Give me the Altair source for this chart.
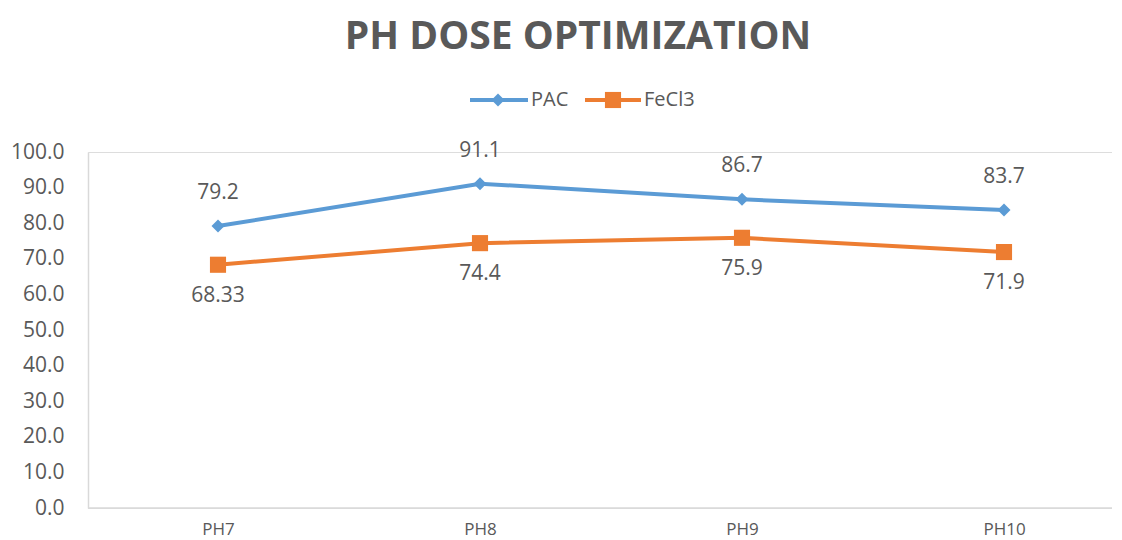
import altair as alt
import pandas as pd

categories = ["PH7", "PH8", "PH9", "PH10"]
pac = [79.2, 91.1, 86.7, 83.7]
fecl3 = [68.33, 74.4, 75.9, 71.9]
pac_labels = ["79.2", "91.1", "86.7", "83.7"]
fecl3_labels = ["68.33", "74.4", "75.9", "71.9"]
series = ["PAC", "FeCl3"]
colors = ["#5B9BD5", "#ED7D31"]
y_ticks = [0, 10, 20, 30, 40, 50, 60, 70, 80, 90, 100]
title_text = "PH DOSE OPTIMIZATION"

rows = []
for c, v, l in zip(categories, pac, pac_labels):
    rows.append({"cat": c, "val": v, "label": l, "series": "PAC"})
for c, v, l in zip(categories, fecl3, fecl3_labels):
    rows.append({"cat": c, "val": v, "label": l, "series": "FeCl3"})
df = pd.DataFrame(rows)

FONT = "Open Sans"
GREY = "#595959"
W, H = 1024, 356

x = alt.X("cat:N", sort=categories, title=None,
          scale=alt.Scale(type="point", range=[130, 916], padding=0),
          axis=alt.Axis(labelAngle=0, ticks=False, domain=False,
                        labelFont=FONT, labelFontSize=17, labelColor=GREY, labelPadding=13))
y = alt.Y("val:Q", title=None,
          scale=alt.Scale(domain=[0, 100], nice=False),
          axis=alt.Axis(values=y_ticks, format=".1f", ticks=False, grid=False,
                        domainColor="#D9D9D9", domainWidth=1.5,
                        labelFont=FONT, labelFontSize=21, labelColor=GREY, labelPadding=24))
color = alt.Color("series:N", scale=alt.Scale(domain=series, range=colors), legend=None)

base = alt.Chart(df).encode(x=x, y=y, color=color)

lines = base.mark_line(strokeWidth=4)
pac_pts = base.transform_filter(alt.datum.series == "PAC").mark_point(
    shape="diamond", filled=True, size=170, opacity=1)
fe_pts = base.transform_filter(alt.datum.series == "FeCl3").mark_point(
    shape="square", filled=True, size=260, opacity=1)
pac_txt = alt.Chart(df).transform_filter(alt.datum.series == "PAC").mark_text(
    dy=-33, baseline="middle", font=FONT, fontSize=21, color=GREY).encode(x=x, y=y, text="label:N")
fe_txt = alt.Chart(df).transform_filter(alt.datum.series == "FeCl3").mark_text(
    dy=31, baseline="middle", font=FONT, fontSize=21, color=GREY).encode(x=x, y=y, text="label:N")

# axis line, legend and title (layout positions in pixels)
one = pd.DataFrame({"series": series})
x_axis_line = alt.Chart(one).transform_filter(alt.datum.series == "PAC").mark_rule(
    strokeWidth=1.5, color="#D9D9D9").encode(x=alt.value(0), x2=alt.value(W), y=alt.value(H))

leg_y = -52
pac_leg_line = alt.Chart(one).transform_filter(alt.datum.series == "PAC").mark_rule(
    strokeWidth=4, color=colors[0]).encode(x=alt.value(382), x2=alt.value(440), y=alt.value(leg_y))
pac_leg_pt = alt.Chart(one).transform_filter(alt.datum.series == "PAC").mark_point(
    shape="diamond", filled=True, size=170, opacity=1, color=colors[0]).encode(
    x=alt.value(410), y=alt.value(leg_y))
pac_leg_txt = alt.Chart(one).transform_filter(alt.datum.series == "PAC").mark_text(
    align="left", baseline="middle", font=FONT, fontSize=20, color=GREY).encode(
    x=alt.value(443), y=alt.value(leg_y), text="series:N")
fe_leg_line = alt.Chart(one).transform_filter(alt.datum.series == "FeCl3").mark_rule(
    strokeWidth=4, color=colors[1]).encode(x=alt.value(497), x2=alt.value(553), y=alt.value(leg_y))
fe_leg_pt = alt.Chart(one).transform_filter(alt.datum.series == "FeCl3").mark_point(
    shape="square", filled=True, size=260, opacity=1, color=colors[1]).encode(
    x=alt.value(525), y=alt.value(leg_y))
fe_leg_txt = alt.Chart(one).transform_filter(alt.datum.series == "FeCl3").mark_text(
    align="left", baseline="middle", font=FONT, fontSize=20, color=GREY).encode(
    x=alt.value(556), y=alt.value(leg_y), text="series:N")

title = alt.Chart(pd.DataFrame({"t": [title_text]})).mark_text(
    align="center", baseline="middle", font=FONT, fontSize=39, fontWeight="bold", color=GREY
).encode(x=alt.value(490), y=alt.value(-115), text="t:N")

chart = alt.layer(
    x_axis_line, lines, pac_pts, fe_pts, pac_txt, fe_txt,
    pac_leg_line, pac_leg_pt, pac_leg_txt, fe_leg_line, fe_leg_pt, fe_leg_txt, title,
).properties(
    width=W, height=H,
    autosize=alt.AutoSizeParams(type="none"),
    padding={"left": 80, "top": 144, "right": 0, "bottom": 40},
).configure_view(stroke=None).configure(background="white")

chart.save("out.html", embed_options={"renderer": "svg", "actions": False})
